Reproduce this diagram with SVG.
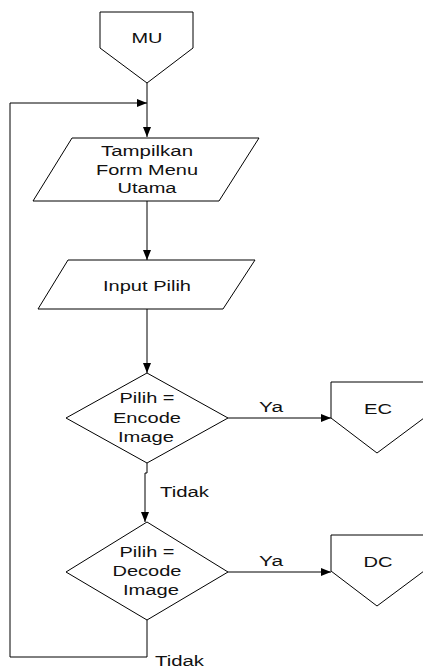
<svg xmlns="http://www.w3.org/2000/svg" width="423" height="669" viewBox="0 0 423 669">
<style>
.s{fill:#fff;stroke:#000;stroke-width:1}
.c{fill:none;stroke:#000;stroke-width:1}
text{font-family:"Liberation Sans",Arial,sans-serif;font-size:15.5px;fill:#111}
.m{text-anchor:middle}
</style>
<defs>
<marker id="ah" viewBox="0 0 10 10" refX="10" refY="5" markerWidth="10" markerHeight="10" markerUnits="userSpaceOnUse" orient="auto">
<path d="M0,1 L10,5 L0,9 Z" fill="#000"/>
</marker>
</defs>
<rect width="423" height="669" fill="#fff"/>
<g id="connectors">
<line class="c" x1="147" y1="83" x2="147" y2="137" marker-end="url(#ah)"/>
<polyline class="c" points="147,620 147,657 10,657 10,103 147,103" marker-end="url(#ah)"/>
<line class="c" x1="147" y1="201" x2="147" y2="260" marker-end="url(#ah)"/>
<line class="c" x1="147" y1="309" x2="147" y2="373" marker-end="url(#ah)"/>
<line class="c" x1="228" y1="418" x2="331" y2="418" marker-end="url(#ah)"/>
<polyline class="c" points="147,463 147,473 145,473 145,522" marker-end="url(#ah)"/>
<line class="c" x1="228" y1="572" x2="331" y2="572" marker-end="url(#ah)"/>
<text x="259" y="412" textLength="24" lengthAdjust="spacingAndGlyphs">Ya</text>
<text x="160" y="497" textLength="49" lengthAdjust="spacingAndGlyphs">Tidak</text>
<text x="259" y="566" textLength="24" lengthAdjust="spacingAndGlyphs">Ya</text>
<text x="155" y="666" textLength="49" lengthAdjust="spacingAndGlyphs">Tidak</text>
</g>
<g id="MU">
<polygon class="s" points="100,12 193,12 193,48 147,83 100,48"/>
<text class="m" x="147" y="43" textLength="31" lengthAdjust="spacingAndGlyphs">MU</text>
</g>
<g id="tampilkan">
<polygon class="s" points="72,138 259,138 219,201 33,201"/>
<text class="m" x="147" y="156" textLength="92" lengthAdjust="spacingAndGlyphs">Tampilkan</text>
<text class="m" x="147" y="175" textLength="102" lengthAdjust="spacingAndGlyphs">Form Menu</text>
<text class="m" x="147" y="193" textLength="59" lengthAdjust="spacingAndGlyphs">Utama</text>
</g>
<g id="input">
<polygon class="s" points="68,260 255,260 223,309 38,309"/>
<text class="m" x="147" y="291" textLength="88" lengthAdjust="spacingAndGlyphs">Input Pilih</text>
</g>
<g id="dec1">
<polygon class="s" points="147,373 228,418 147,463 66,418"/>
<text class="m" x="147" y="403" textLength="55" lengthAdjust="spacingAndGlyphs">Pilih =</text>
<text class="m" x="147" y="423" textLength="68" lengthAdjust="spacingAndGlyphs">Encode</text>
<text class="m" x="146" y="442" textLength="56" lengthAdjust="spacingAndGlyphs">Image</text>
</g>
<g id="EC">
<polygon class="s" points="331,382 424,382 424,418 377,453 331,418"/>
<text class="m" x="378" y="414" textLength="28" lengthAdjust="spacingAndGlyphs">EC</text>
</g>
<g id="dec2">
<polygon class="s" points="147,522 228,572 147,620 66,572"/>
<text class="m" x="147" y="557" textLength="55" lengthAdjust="spacingAndGlyphs">Pilih =</text>
<text class="m" x="147" y="576" textLength="69" lengthAdjust="spacingAndGlyphs">Decode</text>
<text class="m" x="151" y="595" textLength="56" lengthAdjust="spacingAndGlyphs">Image</text>
</g>
<g id="DC">
<polygon class="s" points="331,535 424,535 424,571 377,606 331,571"/>
<text class="m" x="378" y="567" textLength="29" lengthAdjust="spacingAndGlyphs">DC</text>
</g>
</svg>
